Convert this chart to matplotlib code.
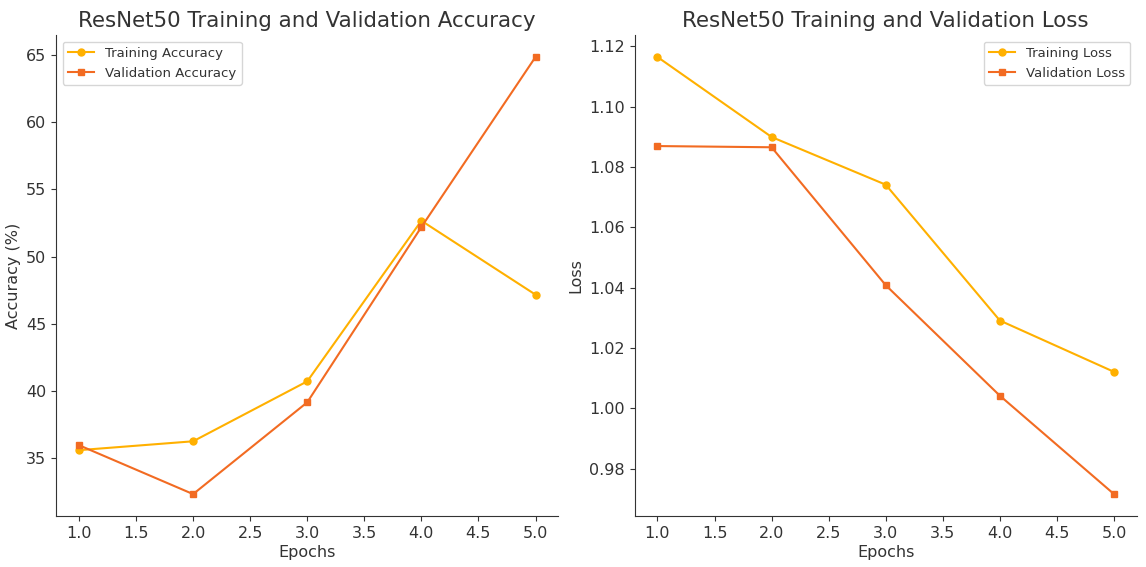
import matplotlib
matplotlib.use("Agg")
import matplotlib.pyplot as plt

epochs = [1, 2, 3, 4, 5]
train_acc = [35.6, 36.26, 40.72, 52.67, 47.17]
val_acc = [35.97, 32.33, 39.16, 52.2, 64.85]
train_loss = [1.1164, 1.0899, 1.0741, 1.0291, 1.0121]
val_loss = [1.0869, 1.0865, 1.0408, 1.0042, 0.9716]

c_train = "#FFB000"
c_val = "#F26B22"
txt = "#333333"

plt.rcParams["text.color"] = txt
plt.rcParams["axes.labelcolor"] = txt
plt.rcParams["xtick.color"] = txt
plt.rcParams["ytick.color"] = txt
plt.rcParams["axes.edgecolor"] = txt

fig, (ax1, ax2) = plt.subplots(1, 2, figsize=(11.46, 5.67), dpi=100)

ax1.plot(epochs, train_acc, marker="o", markersize=5, color=c_train, label="Training Accuracy")
ax1.plot(epochs, val_acc, marker="s", markersize=5, color=c_val, label="Validation Accuracy")
ax1.set_title("ResNet50 Training and Validation Accuracy", fontsize=15.4)
ax1.set_xlabel("Epochs", fontsize=11.5, labelpad=3)
ax1.set_ylabel("Accuracy (%)", fontsize=11.5, labelpad=4)
ax1.legend(loc="upper left", fontsize=9.5)

ax2.plot(epochs, train_loss, marker="o", markersize=5, color=c_train, label="Training Loss")
ax2.plot(epochs, val_loss, marker="s", markersize=5, color=c_val, label="Validation Loss")
ax2.set_title("ResNet50 Training and Validation Loss", fontsize=15.4)
ax2.set_xlabel("Epochs", fontsize=11.5, labelpad=3)
ax2.set_ylabel("Loss", fontsize=11.5, labelpad=4)
ax2.legend(loc="upper right", fontsize=9.5)

for ax in (ax1, ax2):
    ax.spines["top"].set_visible(False)
    ax.spines["right"].set_visible(False)
    ax.tick_params(labelsize=11.5)

fig.subplots_adjust(left=0.049, right=0.992, bottom=0.09, top=0.938, wspace=0.152)
fig.savefig("out.png", dpi=100)
